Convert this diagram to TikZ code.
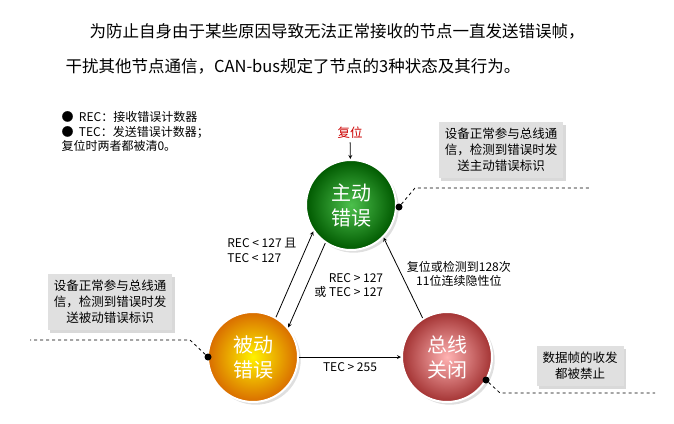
\documentclass[tikz,border=0pt]{standalone}
\usepackage{fontspec}
\setmainfont{Noto Sans CJK SC}
\usetikzlibrary{shadows}
\begin{document}
\begin{tikzpicture}[x=1pt, y=-1pt, font=\fontsize{12}{14.5}\selectfont]
	\tikzset{etat/.style={circle, minimum size=90pt, inner sep=0pt, text=white, align=center,
			font=\fontsize{20}{25}\selectfont, draw=white, line width=2pt, drop shadow={opacity=0.25}},
		boite/.style={fill=black!12, align=center, inner sep=6pt, drop shadow={opacity=0.3}, font=\fontsize{12.5}{16}\selectfont},
		fleche/.style={thick, ->, >=stealth},
		pointille/.style={thick, dashed},
		point/.style={circle, fill=black, inner sep=0pt, minimum size=7pt}};

	\useasboundingbox (0,0) rectangle (674,423);

	\node[anchor=west, font=\fontsize{16.5}{20}\selectfont] (titre1) at (86,31) {为防止自身由于某些原因导致无法正常接收的节点一直发送错误帧，};
	\node[anchor=west, font=\fontsize{16.5}{20}\selectfont] (titre2) at (62,66) {干扰其他节点通信，CAN-bus规定了节点的3种状态及其行为。};

	\node[anchor=north west, align=left] (legende) at (58,108) {● \ REC：接收错误计数器\\● \ TEC：发送错误计数器；\\复位时两者都被清0。};

	\node[etat, inner color=green!65!black!70!white, outer color=green!35!black] (actif) at (351,205) {主动\\错误};
	\node[etat, inner color=yellow!90!orange, outer color=orange!85!black] (passif) at (253,357) {被动\\错误};
	\node[etat, inner color=red!30, outer color=red!55!black!80] (ferme) at (447,357) {总线\\关闭};

	\node[text=red!80!black, font=\fontsize{12.5}{14}\selectfont] (reset) at (350,133) {复位};
	\draw[fleche] (reset) -- (actif);

	\draw[fleche] (passif.60) -- (actif.215) node[pos=0.78, left=5pt, align=left] {REC < 127 且\\TEC < 127};
	\draw[fleche] (actif.236) -- (passif.40) node[pos=0.5, right=4pt, align=right] {REC > 127\\或 TEC > 127};
	\draw[fleche] (ferme.122) -- (actif.315) node[pos=0.55, right=2pt, align=center] {复位或检测到128次\\11位连续隐性位};
	\draw[fleche] (passif) -- (ferme) node[pos=0.5, below=2pt] {TEC > 255};

	% boites de commentaire
	\node[boite] (b-actif) at (501,150) {设备正常参与总线通\\信，检测到错误时发\\送主动错误标识};
	\node[boite] (b-passif) at (110,302) {设备正常参与总线通\\信，检测到错误时发\\送被动错误标识};
	\node[boite] (b-ferme) at (580,366) {数据帧的收发\\都被禁止};

	\node[point] (p-actif) at (399,207) {};
	\node[point] (p-passif) at (208,357) {};
	\node[point] (p-ferme) at (486,380) {};
	\coordinate (c1) at (415,188); \coordinate (c2) at (590,188);
	\coordinate (c3) at (190,340); \coordinate (c4) at (30,340);
	\coordinate (c5) at (500,393); \coordinate (c6) at (655,393);
	\draw[pointille] (p-actif) -- (c1) -- (c2);
	\draw[pointille] (p-passif) -- (c3) -- (c4);
	\draw[pointille] (p-ferme) -- (c5) -- (c6);
\end{tikzpicture}
\end{document}
